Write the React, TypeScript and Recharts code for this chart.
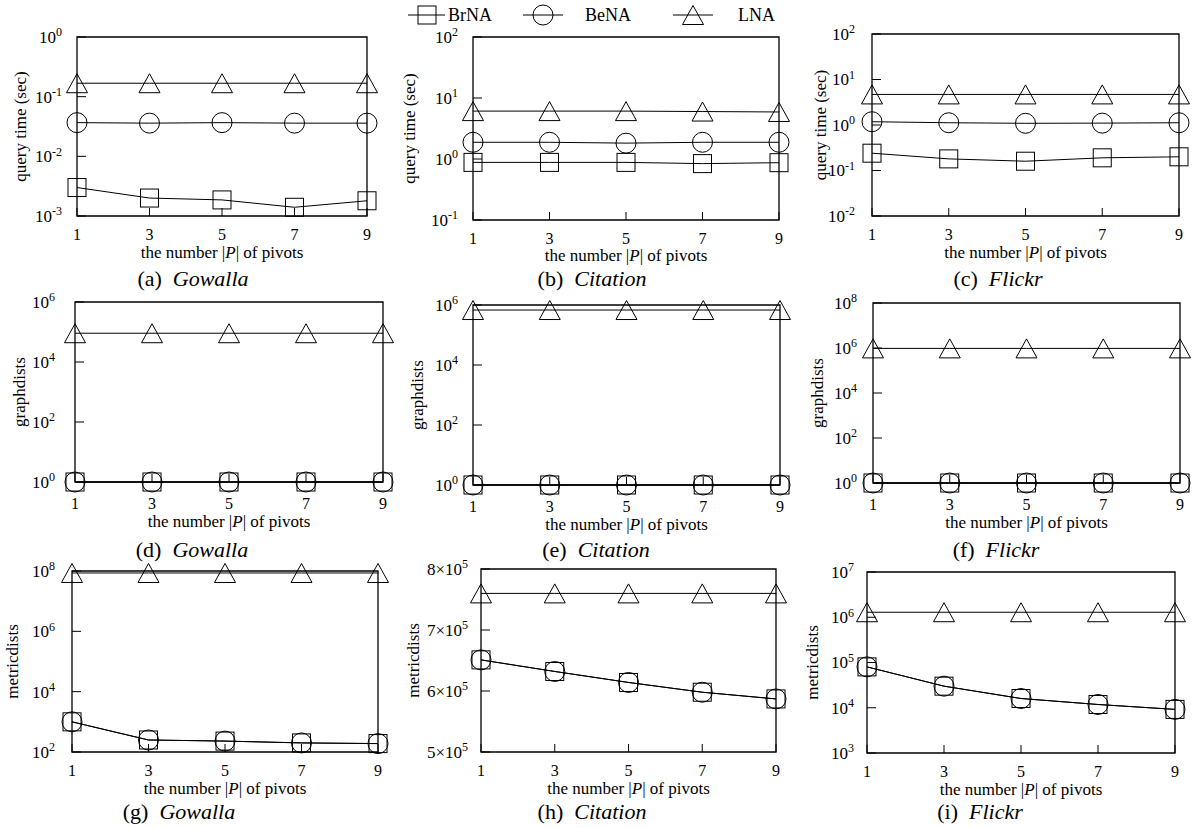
import React from "react";
import { LineChart, Line, XAxis, YAxis, ReferenceArea } from "recharts";

const FONT = '"Liberation Serif", "Times New Roman", serif';

const pivots = [1, 3, 5, 7, 9];
const seriesNames = ["BrNA", "BeNA", "LNA"];

// query time (sec)
const gowallaTimeBrNA = [0.003, 0.002, 0.00186, 0.0014, 0.0018];
const gowallaTimeBeNA = [0.0367, 0.036, 0.0367, 0.036, 0.036];
const gowallaTimeLNA = [0.168, 0.168, 0.168, 0.168, 0.168];
const citationTimeBrNA = [0.88, 0.88, 0.88, 0.84, 0.87];
const citationTimeBeNA = [1.88, 1.88, 1.82, 1.88, 1.88];
const citationTimeLNA = [6.1, 6.1, 6.1, 6.0, 5.9];
const flickrTimeBrNA = [0.24, 0.18, 0.16, 0.19, 0.2];
const flickrTimeBeNA = [1.18, 1.12, 1.09, 1.1, 1.12];
const flickrTimeLNA = [4.7, 4.7, 4.7, 4.7, 4.7];

// graphdists
const gowallaGraphBrNA = [1, 1, 1, 1, 1];
const gowallaGraphBeNA = [1, 1, 1, 1, 1];
const gowallaGraphLNA = [91000, 91000, 91000, 91000, 91000];
const citationGraphBrNA = [1, 1, 1, 1, 1];
const citationGraphBeNA = [1, 1, 1, 1, 1];
const citationGraphLNA = [680000, 680000, 680000, 680000, 680000];
const flickrGraphBrNA = [1, 1, 1, 1, 1];
const flickrGraphBeNA = [1, 1, 1, 1, 1];
const flickrGraphLNA = [960000, 960000, 960000, 960000, 960000];

// metricdists
const gowallaMetricBrNA = [1000, 250, 230, 200, 190];
const gowallaMetricBeNA = [1000, 250, 230, 200, 190];
const gowallaMetricLNA = [8.6e7, 8.6e7, 8.6e7, 8.6e7, 8.6e7];
const citationMetricBrNA = [651000, 632000, 614000, 598000, 587000];
const citationMetricBeNA = [651000, 632000, 614000, 598000, 587000];
const citationMetricLNA = [760000, 760000, 760000, 760000, 760000];
const flickrMetricBrNA = [80000, 30000, 16000, 11800, 9200];
const flickrMetricBeNA = [80000, 30000, 16000, 11800, 9200];
const flickrMetricLNA = [1.29e6, 1.29e6, 1.29e6, 1.29e6, 1.29e6];

const timeTicksGowalla = [0.001, 0.01, 0.1, 1];
const timeTicksCitation = [0.1, 1, 10, 100];
const timeTicksFlickr = [0.01, 0.1, 1, 10, 100];
const graphTicks6 = [1, 100, 10000, 1000000];
const graphTicks8 = [1, 100, 10000, 1000000, 100000000];
const metricTicksGowalla = [100, 10000, 1000000, 100000000];
const metricTicksCitation = [500000, 600000, 700000, 800000];
const metricTicksFlickr = [1000, 10000, 100000, 1000000, 10000000];

const ML = 90;
const MT = 20;
const MR = 30;
const MB = 60;

type Kind = "square" | "circle" | "triangle";
const kinds: Kind[] = ["square", "circle", "triangle"];

function Marker({ kind, cx, cy }: { kind: Kind; cx: number; cy: number }) {
  if (cx == null || cy == null || isNaN(cx) || isNaN(cy)) return null;
  if (kind === "square")
    return <rect x={cx - 9} y={cy - 9} width={18} height={18} fill="none" stroke="#000" strokeWidth={1} />;
  if (kind === "circle") return <circle cx={cx} cy={cy} r={10} fill="none" stroke="#000" strokeWidth={1} />;
  return (
    <path
      d={`M${cx},${cy - 9.5}L${cx + 10.5},${cy + 9.5}L${cx - 10.5},${cy + 9.5}Z`}
      fill="none"
      stroke="#000"
      strokeWidth={1}
    />
  );
}

function YTick(props: any) {
  const { x, y, payload, gap, linear } = props;
  const v = payload.value;
  let base = "10";
  let exp = String(Math.round(Math.log10(v)));
  if (linear) {
    const e = Math.floor(Math.log10(v));
    base = `${Math.round(v / Math.pow(10, e))}×10`;
    exp = String(e);
  }
  return (
    <g>
      <line x1={x} x2={x + 9} y1={y} y2={y} stroke="#000" strokeWidth={1} />
      <text x={x - gap} y={y} dy="0.35em" textAnchor="end" fontFamily={FONT} fontSize={17} fill="#000">
        {base}
        <tspan dy="-0.55em" fontSize={12}>
          {exp}
        </tspan>
      </text>
    </g>
  );
}

function XTick(props: any) {
  const { x, y, payload, dy } = props;
  return (
    <g>
      <line x1={x} x2={x} y1={y} y2={y - 8} stroke="#000" strokeWidth={1} />
      <text x={x} y={y + dy} textAnchor="middle" fontFamily={FONT} fontSize={16} fill="#000">
        {payload.value}
      </text>
    </g>
  );
}

type Panel = {
  id: string;
  name: string;
  x: number;
  y: number;
  w: number;
  h: number;
  scale: "log" | "linear";
  ticks: number[];
  yLabel: string;
  labelOff: number;
  gap: number;
  tickDy: number;
  titleDy: number;
  capX: number;
  capY: number;
  series: number[][];
};

const panels: Panel[] = [
  { id: "a", name: "Gowalla", x: 77, y: 37, w: 290, h: 179, scale: "log", ticks: timeTicksGowalla, yLabel: "query time (sec)", labelOff: 57, gap: 15, tickDy: 24, titleDy: 42, capX: 193, capY: 286, series: [gowallaTimeBrNA, gowallaTimeBeNA, gowallaTimeLNA] },
  { id: "b", name: "Citation", x: 473, y: 37, w: 306, h: 183, scale: "log", ticks: timeTicksCitation, yLabel: "query time (sec)", labelOff: 64, gap: 15, tickDy: 24, titleDy: 41, capX: 592, capY: 286, series: [citationTimeBrNA, citationTimeBeNA, citationTimeLNA] },
  { id: "c", name: "Flickr", x: 872, y: 34, w: 307, h: 182, scale: "log", ticks: timeTicksFlickr, yLabel: "query time (sec)", labelOff: 52, gap: 17, tickDy: 24, titleDy: 42, capX: 998, capY: 286, series: [flickrTimeBrNA, flickrTimeBeNA, flickrTimeLNA] },
  { id: "d", name: "Gowalla", x: 75, y: 302, w: 308, h: 180, scale: "log", ticks: graphTicks6, yLabel: "graphdists", labelOff: 56, gap: 20, tickDy: 27, titleDy: 45, capX: 192, capY: 557, series: [gowallaGraphBrNA, gowallaGraphBeNA, gowallaGraphLNA] },
  { id: "e", name: "Citation", x: 473, y: 305, w: 307, h: 180, scale: "log", ticks: graphTicks6, yLabel: "graphdists", labelOff: 56, gap: 15, tickDy: 27, titleDy: 45, capX: 596, capY: 557, series: [citationGraphBrNA, citationGraphBeNA, citationGraphLNA] },
  { id: "f", name: "Flickr", x: 873, y: 303, w: 307, h: 180, scale: "log", ticks: graphTicks8, yLabel: "graphdists", labelOff: 56, gap: 16, tickDy: 27, titleDy: 45, capX: 996, capY: 557, series: [flickrGraphBrNA, flickrGraphBeNA, flickrGraphLNA] },
  { id: "g", name: "Gowalla", x: 72, y: 571, w: 306, h: 181, scale: "log", ticks: metricTicksGowalla, yLabel: "metricdists", labelOff: 60, gap: 17, tickDy: 24, titleDy: 42, capX: 179, capY: 819, series: [gowallaMetricBrNA, gowallaMetricBeNA, gowallaMetricLNA] },
  { id: "h", name: "Citation", x: 481, y: 569, w: 295, h: 183, scale: "linear", ticks: metricTicksCitation, yLabel: "metricdists", labelOff: 68, gap: 13, tickDy: 24, titleDy: 42, capX: 592, capY: 819, series: [citationMetricBrNA, citationMetricBeNA, citationMetricLNA] },
  { id: "i", name: "Flickr", x: 867, y: 572, w: 308, h: 181, scale: "log", ticks: metricTicksFlickr, yLabel: "metricdists", labelOff: 55, gap: 13, tickDy: 24, titleDy: 42, capX: 980, capY: 819, series: [flickrMetricBrNA, flickrMetricBeNA, flickrMetricLNA] },
];

function PanelChart({ p }: { p: Panel }) {
  const rows = pivots.map((v, i) => {
    const r: any = { p: v };
    seriesNames.forEach((n, k) => (r[n] = p.series[k][i]));
    return r;
  });
  const lo = p.ticks[0];
  const hi = p.ticks[p.ticks.length - 1];
  const xTitle = (
    <text x={ML + p.w / 2} y={MT + p.h + p.titleDy} textAnchor="middle" fontFamily={FONT} fontSize={17} fill="#000">
      the number |<tspan fontStyle="italic">P</tspan>| of pivots
    </text>
  );
  const cy = MT + p.h / 2;
  const cx = ML - p.labelOff;
  const yTitle = (
    <text
      x={cx}
      y={cy}
      dy="0.35em"
      transform={`rotate(-90 ${cx} ${cy})`}
      textAnchor="middle"
      fontFamily={FONT}
      fontSize={17}
      fill="#000"
    >
      {p.yLabel}
    </text>
  );
  return (
    <div style={{ position: "absolute", left: p.x - ML, top: p.y - MT }}>
      <LineChart
        width={p.w + ML + MR}
        height={p.h + MT + MB}
        data={rows}
        margin={{ top: MT, right: MR, left: 0, bottom: 0 }}
      >
        <XAxis
          type="number"
          dataKey="p"
          domain={[1, 9]}
          ticks={pivots}
          interval={0}
          tickSize={0}
          tickMargin={0}
          axisLine={false}
          tickLine={false}
          height={MB}
          tick={(t: any) => <XTick {...t} dy={p.tickDy} />}
          label={{ content: () => xTitle }}
        />
        <YAxis
          type="number"
          scale={p.scale}
          domain={[lo, hi]}
          ticks={p.ticks}
          interval={0}
          tickSize={0}
          tickMargin={0}
          axisLine={false}
          tickLine={false}
          width={ML}
          tick={(t: any) => <YTick {...t} gap={p.gap} linear={p.scale === "linear"} />}
          label={{ content: () => yTitle }}
        />
        <ReferenceArea
          x1={1}
          x2={9}
          y1={lo}
          y2={hi}
          fill="none"
          fillOpacity={0}
          stroke="#000"
          strokeWidth={1.3}
          ifOverflow="visible"
        />
        {seriesNames.map((n, k) => (
          <Line
            key={n}
            dataKey={n}
            type="linear"
            stroke="#000"
            strokeWidth={1}
            isAnimationActive={false}
            activeDot={false}
            dot={(d: any) => <Marker key={`${n}-${d.index}`} kind={kinds[k]} cx={d.cx} cy={d.cy} />}
          />
        ))}
      </LineChart>
    </div>
  );
}

const legendItems = [
  { name: "BrNA", kind: "square" as Kind, x1: 408, x2: 445, mx: 427, tx: 448 },
  { name: "BeNA", kind: "circle" as Kind, x1: 523, x2: 563, mx: 543, tx: 585 },
  { name: "LNA", kind: "triangle" as Kind, x1: 673, x2: 713, mx: 693, tx: 738 },
];

export default function App() {
  return (
    <div style={{ position: "absolute", left: 0, top: 0, width: 1192, height: 828, background: "#fff" }}>
      {panels.map((p) => (
        <PanelChart key={p.id} p={p} />
      ))}
      <svg width={1192} height={828} style={{ position: "absolute", left: 0, top: 0, pointerEvents: "none" }}>
        {legendItems.map((it) => (
          <g key={it.name}>
            <line x1={it.x1} x2={it.x2} y1={15} y2={15} stroke="#000" strokeWidth={1} />
            <Marker kind={it.kind} cx={it.mx} cy={15} />
            <text x={it.tx} y={21} fontFamily={FONT} fontSize={18} fill="#000">
              {it.name}
            </text>
          </g>
        ))}
        {panels.map((p) => (
          <text key={p.id} x={p.capX} y={p.capY} textAnchor="middle" fontFamily={FONT} fontSize={22} fill="#000">
            ({p.id}){"\u2002"}
            <tspan fontStyle="italic">{p.name}</tspan>
          </text>
        ))}
      </svg>
    </div>
  );
}
